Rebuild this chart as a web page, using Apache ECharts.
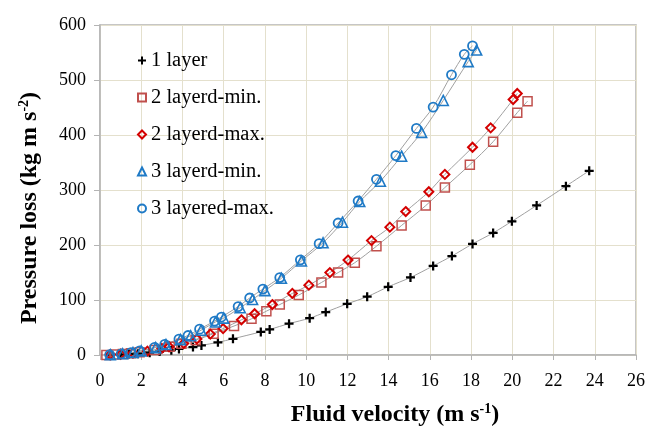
<!DOCTYPE html>
<html>
<head>
<meta charset="utf-8">
<script src="https://cdn.jsdelivr.net/npm/echarts@6/dist/echarts.min.js"></script>
<style>html,body{margin:0;padding:0;background:#fff}#c{width:648px;height:432px}</style>
</head>
<body>
<div id="c"></div>
<script>
// ---- data ----
const names = ['1 layer', '2 layerd-min.', '2 layerd-max.', '3 layerd-min.', '3 layered-max.'];
const oneLayerX = [0.5, 1.0, 1.4, 1.84, 2.41, 2.89, 3.46, 3.83, 4.51, 4.92, 5.72, 6.45, 7.8, 8.23, 9.17, 10.17, 10.95, 11.99, 12.96, 13.98, 15.06, 16.16, 17.07, 18.07, 19.07, 19.98, 21.18, 22.6, 23.73];
const oneLayerY = [0.2, 0.8, 1.6, 2.5, 4.2, 6.2, 8.8, 11, 14.5, 17.5, 23, 29.5, 42, 46.5, 57, 67, 78, 93, 106, 124, 141, 162, 180, 202, 222, 243, 272, 307, 335];
const twoMinX = [0.31, 0.7, 1.11, 1.5, 1.92, 2.65, 3.38, 3.95, 4.64, 5.51, 6.5, 7.35, 8.07, 8.72, 9.64, 10.74, 11.55, 12.36, 13.41, 14.63, 15.8, 16.73, 17.94, 19.07, 20.24, 20.74];
const twoMinY = [0.15, 0.7, 1.6, 3, 5, 9, 15, 20.5, 27, 38.8, 52.7, 65.8, 79.7, 91.7, 109, 131.8, 149.8, 167.8, 197.8, 235.6, 271.6, 304.5, 345.9, 387.8, 440.6, 461.5];
const twoMaxX = [0.5, 1.0, 1.6, 2.3, 3.0, 3.35, 4.06, 4.7, 5.35, 5.97, 6.86, 7.5, 8.36, 9.33, 10.13, 11.15, 12.03, 13.17, 14.06, 14.83, 15.95, 16.73, 18.07, 18.95, 20.04, 20.24];
const twoMaxY = [0.35, 1.4, 3.5, 7, 12, 15, 21, 29, 38, 48, 64, 75, 91.7, 112, 127, 149.8, 172.6, 208, 232.5, 260.8, 296.8, 328.4, 377.7, 413, 464.6, 475.4];
const threeMinX = [0.5, 1.1, 1.6, 2.0, 2.7, 3.2, 3.9, 4.4, 4.9, 5.6, 6.0, 6.8, 7.4, 8.0, 8.8, 9.77, 10.82, 11.76, 12.6, 13.6, 14.63, 15.6, 16.65, 17.86, 18.27];
const threeMinY = [0.5, 2.3, 4.5, 7.5, 13.5, 19, 28, 35, 45, 60, 67, 86, 101, 117, 139.5, 171, 204, 241.5, 279, 316, 361.5, 404.7, 462.8, 533.5, 554.5];
const threeMaxX = [0.47, 1.03, 1.5, 1.92, 2.65, 3.14, 3.83, 4.27, 4.83, 5.56, 5.89, 6.7, 7.26, 7.9, 8.72, 9.72, 10.63, 11.55, 12.52, 13.41, 14.35, 15.35, 16.16, 17.05, 17.67, 18.07];
const threeMaxY = [0.5, 2.2, 4.5, 7.5, 14, 19.5, 29, 35.5, 47, 61.7, 69, 88, 103.6, 119.8, 140.8, 173, 202.5, 240, 280, 319.5, 362.6, 412, 450.7, 509.5, 546.7, 562];
const xTicks = [0, 26, 2];   // min, max, interval
const yTicks = [0, 600, 100];

const zip = (xs, ys) => xs.map((x, i) => [x, ys[i]]);
const sets = [zip(oneLayerX, oneLayerY), zip(twoMinX, twoMinY), zip(twoMaxX, twoMaxY), zip(threeMinX, threeMinY), zip(threeMaxX, threeMaxY)];

const plus = 'path://M3,0 H5 V3 H8 V5 H5 V8 H3 V5 H0 V3 H3 Z';
const styles = [
  {symbol: plus, size: 9, color: '#000', fill: '#000', bw: 0},
  {symbol: 'rect', size: 9, color: '#c0504d', fill: 'rgba(255,255,255,0)', bw: 1.5},
  {symbol: 'diamond', size: 9, color: '#d40000', fill: 'rgba(255,255,255,0)', bw: 2},
  {symbol: 'triangle', size: 10, color: '#1f7ac6', fill: 'rgba(255,255,255,0)', bw: 1.6},
  {symbol: 'circle', size: 9, color: '#1f7ac6', fill: 'rgba(255,255,255,0)', bw: 1.8}
];

const serif = '"Liberation Serif", "Times New Roman", serif';
const series = [];
sets.forEach((d, i) => {
  series.push({
    name: 'fit' + i, type: 'line', data: d, smooth: 0.3, showSymbol: false, silent: true,
    lineStyle: {color: '#a0a0a0', width: 1}, z: 1
  });
});
sets.forEach((d, i) => {
  const s = styles[i];
  series.push({
    name: names[i], type: 'scatter', data: d, symbol: s.symbol, symbolSize: s.size,
    itemStyle: {color: s.fill, borderColor: s.color, borderWidth: s.bw, opacity: 1}, z: 3
  });
});

const chart = echarts.init(document.getElementById('c'), null, {renderer: 'canvas'});
chart.setOption({
  animation: false,
  backgroundColor: '#fff',
  grid: {left: 100, right: 12, top: 25, bottom: 74, containLabel: false,
         show: true, borderColor: '#b4b4b4', borderWidth: 1.5},
  legend: {
    data: names, orient: 'vertical', left: 137, top: 50, itemGap: 16, padding: 0,
    itemWidth: 8, itemHeight: 8, selectedMode: false,
    textStyle: {fontFamily: serif, fontSize: 20.5, color: '#000'}
  },
  xAxis: {
    type: 'value', min: xTicks[0], max: xTicks[1], interval: xTicks[2],
    name: '{b|Fluid velocity (m s}{s|-1}{b|)}', nameLocation: 'middle', nameGap: 47,
    nameTextStyle: {padding: [0, 0, 0, 54], rich: {
      b: {fontFamily: serif, fontSize: 24, fontWeight: 'bold', color: '#000'},
      s: {fontFamily: serif, fontSize: 14, fontWeight: 'bold', color: '#000', padding: [0, 0, 12, 0]}
    }},
    axisLine: {lineStyle: {color: '#b4b4b4', width: 1.5}},
    axisTick: {show: true, inside: false, length: 5, lineStyle: {color: '#b4b4b4'}},
    axisLabel: {fontFamily: serif, fontSize: 18, color: '#000', margin: 17},
    splitLine: {show: true, lineStyle: {color: '#e4e0cd', width: 1}}
  },
  yAxis: {
    type: 'value', min: yTicks[0], max: yTicks[1], interval: yTicks[2],
    name: '{b|Pressure loss (kg m s}{s|-2}{b|)}', nameLocation: 'middle', nameGap: 57, nameRotate: 90,
    nameTextStyle: {padding: [0, 36, 0, 0], rich: {
      b: {fontFamily: serif, fontSize: 24, fontWeight: 'bold', color: '#000'},
      s: {fontFamily: serif, fontSize: 14, fontWeight: 'bold', color: '#000', padding: [0, 0, 12, 0]}
    }},
    axisLine: {show: true, lineStyle: {color: '#b4b4b4', width: 1.5}},
    axisTick: {show: true, inside: false, length: 6, lineStyle: {color: '#b4b4b4'}},
    axisLabel: {fontFamily: serif, fontSize: 18, color: '#000', margin: 14},
    splitLine: {show: true, lineStyle: {color: '#e4e0cd', width: 1}}
  },
  series: series
});
</script>
</body>
</html>
